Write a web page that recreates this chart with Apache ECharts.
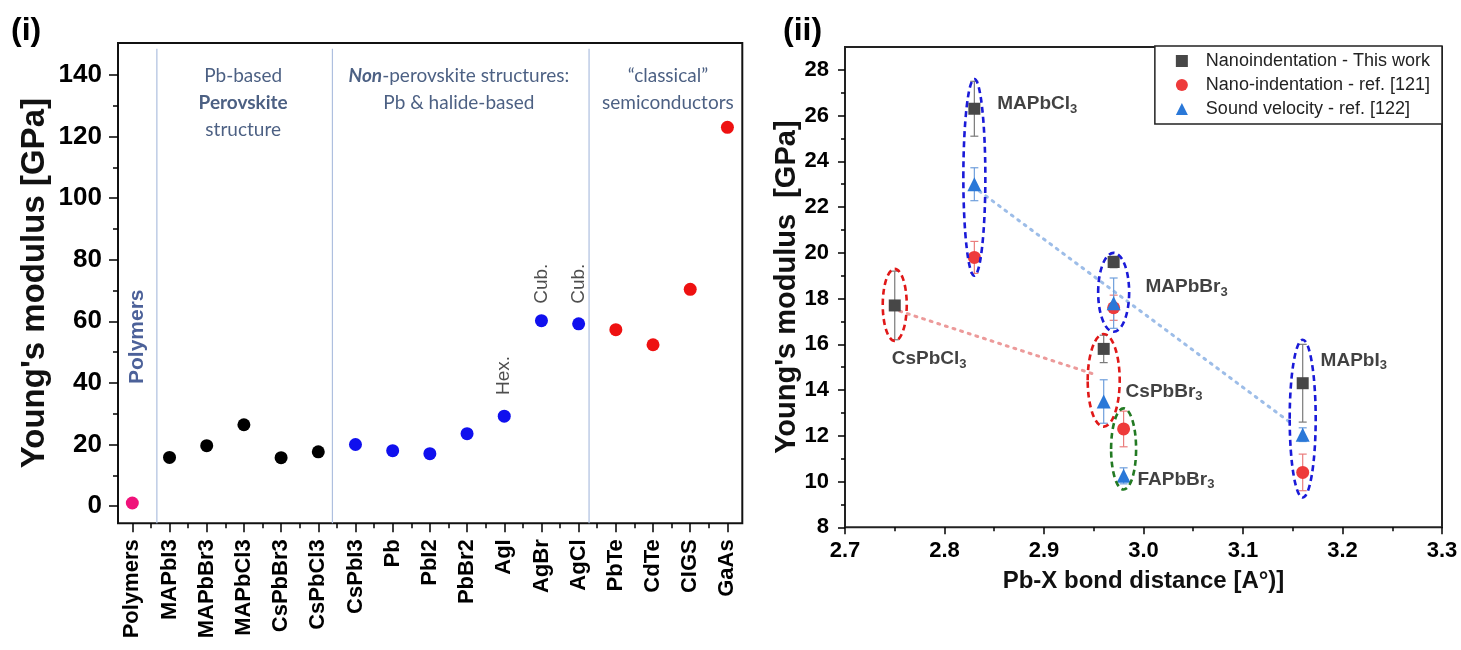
<!DOCTYPE html>
<html><head><meta charset="utf-8">
<script src="https://cdn.jsdelivr.net/npm/echarts@6/dist/echarts.min.js"></script>
<style>html,body{margin:0;padding:0;background:#fff}#c{width:1461px;height:650px}</style>
</head><body><div id="c"></div>
<script>
// ================= DATA =================
// Panel (i)
const leftCategories = ['Polymers','MAPbI3','MAPbBr3','MAPbCl3','CsPbBr3','CsPbCl3','CsPbI3','Pb','PbI2','PbBr2','AgI','AgBr','AgCl','PbTe','CdTe','CIGS','GaAs'];
const leftValues = [1.0, 15.8, 19.6, 26.4, 15.7, 17.6, 20.0, 18.0, 17.0, 23.5, 29.2, 60.2, 59.2, 57.3, 52.4, 70.4, 123.0];
const leftGroups = ['polymer','perovskite','perovskite','perovskite','perovskite','perovskite',
  'nonperovskite','nonperovskite','nonperovskite','nonperovskite','nonperovskite','nonperovskite','nonperovskite',
  'classical','classical','classical','classical'];
const leftYTicks = [0, 20, 40, 60, 80, 100, 120, 140];
const groupBoundaries = [0.66, 5.38, 12.28];
const structureNotes = [['AgI', 'Hex.'], ['AgBr', 'Cub.'], ['AgCl', 'Cub.']];

// Panel (ii)
const compounds = ['MAPbCl3','MAPbBr3','MAPbI3','CsPbCl3','CsPbBr3','FAPbBr3'];
const bondDistance = [2.83, 2.97, 3.16, 2.75, 2.96, 2.98];
const thisWork = [26.3, 19.6, 14.3, 17.7, 15.8, null];
const thisWorkErr = [1.2, 0.25, 1.7, 1.5, 0.6, null];
const ref121 = [19.8, 17.6, 10.4, null, null, 12.3];
const ref121Err = [0.7, 0.55, 0.8, null, null, 0.78];
const ref122 = [23.0, 17.8, 12.05, null, 13.5, 10.25];
const ref122Err = [0.72, 1.1, 0.3, null, 0.95, 0.35];
const groupLow = [19.0, 16.55, 9.3, 16.15, 12.4, 9.65];
const groupHigh = [27.6, 20.0, 16.2, 19.3, 16.45, 13.2];
const maTrend = [[2.835, 22.7], [3.15, 12.5]];
const csTrend = [[2.755, 17.45], [2.95, 14.7]];
const rightXTicks = [2.7, 2.8, 2.9, 3.0, 3.1, 3.2, 3.3];
const rightYTicks = [8, 10, 12, 14, 16, 18, 20, 22, 24, 26, 28];
const seriesNames = ['Nanoindentation - This work', 'Nano-indentation - ref. [121]', 'Sound velocity - ref. [122]'];

// ================= LAYOUT / STYLE =================
const FONT = "'Liberation Sans', Arial, Helvetica, sans-serif";
const HFONT = "Lato, 'Open Sans', sans-serif";
const NAVY = '#1f3864';
const L = {left:118, right:742.3, top:43, bottom:523.3, xMin:-0.385, xMax:16.4, yMin:-5.6, yMax:150.4};
const R = {left:845, right:1442, top:47, bottom:527.3, xMin:2.7, xMax:3.3, yMin:8, yMax:29};
const lpx = v => L.left + (v - L.xMin) / (L.xMax - L.xMin) * (L.right - L.left);
const lpy = v => L.bottom - (v - L.yMin) / (L.yMax - L.yMin) * (L.bottom - L.top);
const rpy = v => R.bottom - (v - R.yMin) / (R.yMax - R.yMin) * (R.bottom - R.top);

const groupColors = {polymer:'#f0127a', perovskite:'#000000', nonperovskite:'#1010ee', classical:'#ee1111'};
const ellipseWidthPx = [22, 31, 26, 24, 32, 25];
const ellipseColors = ['#1a1ad8','#1a1ad8','#1a1ad8','#e01818','#e01818','#237a23'];
const labelAnchors = [[2.853, 26.5], [3.002, 18.5], [3.178, 15.3], [2.747, 15.35], [2.982, 13.93], [2.994, 10.1]];
const tickLine = {color:'#000', width:1.5};

const chart = echarts.init(document.getElementById('c'), null, {renderer:'canvas'});

const grids = [
  {left:L.left, top:L.top, width:L.right-L.left, height:L.bottom-L.top, show:true, borderColor:'#111', borderWidth:2},
  {left:L.left, top:lpy(leftYTicks[leftYTicks.length-1]), width:L.right-L.left, height:lpy(leftYTicks[0])-lpy(leftYTicks[leftYTicks.length-1])},
  {left:lpx(-0.5), top:L.top, width:lpx(16.5)-lpx(-0.5), height:L.bottom-L.top},
  {left:lpx(0.5), top:L.top, width:lpx(15.5)-lpx(0.5), height:L.bottom-L.top},
  {left:R.left, top:R.top, width:R.right-R.left, height:R.bottom-R.top, show:true, borderColor:'#222', borderWidth:2},
  {left:R.left, top:rpy(rightYTicks[rightYTicks.length-1]), width:R.right-R.left, height:rpy(rightYTicks[0])-rpy(rightYTicks[rightYTicks.length-1])}
];

const hidden = (gi, extra) => Object.assign({gridIndex:gi, type:'value', show:false}, extra || {});

const xAxes = [
  hidden(0, {min:L.xMin, max:L.xMax}),
  hidden(1, {min:0, max:1}),
  {gridIndex:2, type:'category', data:leftCategories, boundaryGap:true,
   axisLine:{show:false}, axisTick:{show:true, alignWithLabel:true, interval:0, length:9, lineStyle:tickLine},
   axisLabel:{interval:0, rotate:90, margin:16, fontSize:22, fontWeight:'bold', color:'#000', fontFamily:FONT},
   splitLine:{show:false}},
  {gridIndex:3, type:'category', data:leftCategories.slice(1).map((c,i)=>leftCategories[i]+'|'+c), boundaryGap:false,
   axisLine:{show:false}, axisTick:{show:true, interval:0, length:5, lineStyle:tickLine},
   axisLabel:{show:false}, splitLine:{show:false}},
  {gridIndex:4, type:'value', min:rightXTicks[0], max:rightXTicks[rightXTicks.length-1], interval:0.1,
   axisLine:{show:false}, axisTick:{show:true, length:7, lineStyle:tickLine},
   minorTick:{show:true, splitNumber:2, length:4, lineStyle:tickLine},
   splitLine:{show:false}, minorSplitLine:{show:false},
   axisLabel:{margin:13, fontSize:22, fontWeight:'bold', color:'#000', fontFamily:FONT, formatter:v=>Number(v).toFixed(1)},
   name:'Pb-X bond distance [A°)]', nameLocation:'middle', nameGap:42,
   nameTextStyle:{fontSize:24, fontWeight:'bold', color:'#111', fontFamily:FONT}},
  hidden(5, {min:0, max:1})
];

const yAxes = [
  {gridIndex:0, type:'value', min:L.yMin, max:L.yMax, axisLine:{show:false}, axisTick:{show:false}, axisLabel:{show:false}, splitLine:{show:false},
   name:"Young's modulus [GPa]", nameLocation:'middle', nameGap:67,
   nameTextStyle:{fontSize:33, fontWeight:'bold', color:'#111', fontFamily:FONT}},
  {gridIndex:1, type:'value', min:leftYTicks[0], max:leftYTicks[leftYTicks.length-1], interval:leftYTicks[1]-leftYTicks[0],
   axisLine:{show:false}, axisTick:{show:true, length:9, lineStyle:tickLine},
   minorTick:{show:true, splitNumber:2, length:5, lineStyle:tickLine},
   splitLine:{show:false}, minorSplitLine:{show:false},
   axisLabel:{margin:16, fontSize:26, fontWeight:'bold', color:'#000', fontFamily:FONT}},
  hidden(2, {min:0, max:1}),
  hidden(3, {min:0, max:1}),
  {gridIndex:4, type:'value', min:R.yMin, max:R.yMax, axisLine:{show:false}, axisTick:{show:false}, axisLabel:{show:false}, splitLine:{show:false},
   name:"Young's modulus  [GPa]", nameLocation:'middle', nameGap:44,
   nameTextStyle:{fontSize:29, fontWeight:'bold', color:'#111', fontFamily:FONT}},
  {gridIndex:5, type:'value', min:rightYTicks[0], max:rightYTicks[rightYTicks.length-1], interval:rightYTicks[1]-rightYTicks[0],
   axisLine:{show:false}, axisTick:{show:true, length:7, lineStyle:tickLine},
   minorTick:{show:true, splitNumber:2, length:4, lineStyle:tickLine},
   splitLine:{show:false}, minorSplitLine:{show:false},
   axisLabel:{margin:16, fontSize:22, fontWeight:'bold', color:'#000', fontFamily:FONT}}
];

const series = [];

// separators
groupBoundaries.forEach(b => series.push({
  type:'line', xAxisIndex:0, yAxisIndex:0, silent:true, symbol:'none', z:1,
  data:[[b, L.yMin], [b, 148.5]], lineStyle:{color:'#aebfdf', width:1.2}
}));

// left data by group
['polymer','perovskite','nonperovskite','classical'].forEach(g => {
  const data = [];
  leftValues.forEach((v,i) => { if (leftGroups[i] === g) data.push([i, v]); });
  series.push({type:'scatter', xAxisIndex:0, yAxisIndex:0, data, symbol:'circle', symbolSize:13,
    itemStyle:{color:groupColors[g], opacity:1}, z:4, silent:true});
});

// left annotations
const txt = (x, y, label) => ({value:[x, y], label:Object.assign({show:true, position:'inside'}, label)});
const noteItems = [
  txt(2.98, 130.9, {formatter:'{n|Pb-based}\n{b|Perovskite}\n{n|structure}'}),
  txt(8.78, 135.3, {formatter:'{bi|Non}{n|-perovskite structures:}\n{n|Pb & halide-based}'}),
  txt(14.4, 135.3, {formatter:'{n|\u201Cclassical\u201D}\n{n|semiconductors}'}),
  txt(0.14, 55, {formatter:'Polymers', rotate:90, fontSize:21, fontWeight:'bold', color:'#1f3a80', fontFamily:FONT})
];
structureNotes.forEach(([cat, t]) => {
  const i = leftCategories.indexOf(cat);
  noteItems.push(txt(i, t === 'Hex.' ? 42.4 : 72.2, {formatter:t, rotate:90, fontSize:19, color:'#222', fontFamily:FONT}));
});
const hRich = {
  n:{fontFamily:HFONT, fontSize:19, color:NAVY, lineHeight:27},
  b:{fontFamily:HFONT, fontSize:19, color:NAVY, fontWeight:'bold', lineHeight:27},
  bi:{fontFamily:HFONT, fontSize:19, color:NAVY, fontWeight:'bold', fontStyle:'italic', lineHeight:27}
};
series.push({type:'scatter', xAxisIndex:0, yAxisIndex:0, symbolSize:0, silent:true, z:6,
  data:noteItems, label:{show:true, rich:hRich, align:'center', verticalAlign:'middle'}, itemStyle:{color:'transparent'}});

// right: trend lines
series.push({type:'line', xAxisIndex:4, yAxisIndex:4, data:maTrend, symbol:'none', silent:true, z:2,
  lineStyle:{color:'#9dbde8', width:3, type:[2,6], cap:'round'}});
series.push({type:'line', xAxisIndex:4, yAxisIndex:4, data:csTrend, symbol:'none', silent:true, z:2,
  lineStyle:{color:'#ec9a9a', width:3, type:[2,6], cap:'round'}});

// right: error bars
function errorBars(ys, errs, color) {
  const data = [];
  bondDistance.forEach((x,i) => { if (ys[i] != null) data.push([x, ys[i], errs[i]]); });
  return {type:'custom', xAxisIndex:4, yAxisIndex:4, data, encode:{x:0, y:1}, silent:true, z:3, clip:false,
    renderItem(params, api) {
      const x = api.value(0), y = api.value(1), e = api.value(2);
      const t = api.coord([x, y + e]), b = api.coord([x, y - e]);
      const w = 4, st = {stroke:color, lineWidth:1.2};
      return {type:'group', children:[
        {type:'line', shape:{x1:t[0], y1:t[1], x2:b[0], y2:b[1]}, style:st},
        {type:'line', shape:{x1:t[0]-w, y1:t[1], x2:t[0]+w, y2:t[1]}, style:st},
        {type:'line', shape:{x1:b[0]-w, y1:b[1], x2:b[0]+w, y2:b[1]}, style:st}
      ]};
    }};
}
series.push(errorBars(thisWork, thisWorkErr, '#7a7a7a'));
series.push(errorBars(ref121, ref121Err, '#ea7d7d'));
series.push(errorBars(ref122, ref122Err, '#6f9fdc'));

// right: markers
const pts = ys => bondDistance.map((x,i) => ys[i] == null ? null : [x, ys[i]]).filter(Boolean);
series.push({name:seriesNames[0], type:'scatter', xAxisIndex:4, yAxisIndex:4, data:pts(thisWork), symbol:'rect', symbolSize:12, itemStyle:{color:'#474747', opacity:1}, z:4});
series.push({name:seriesNames[1], type:'scatter', xAxisIndex:4, yAxisIndex:4, data:pts(ref121), symbol:'circle', symbolSize:13, itemStyle:{color:'#ee3b3b', opacity:1}, z:4});
series.push({name:seriesNames[2], type:'scatter', xAxisIndex:4, yAxisIndex:4, data:pts(ref122), symbol:'triangle', symbolSize:14, itemStyle:{color:'#2a78d8', opacity:1}, z:4});

// right: group ellipses
series.push({type:'custom', xAxisIndex:4, yAxisIndex:4, silent:true, z:5, clip:false,
  data:compounds.map((c,i) => [bondDistance[i], groupLow[i], groupHigh[i]]), encode:{x:0, y:[1,2]},
  renderItem(params, api) {
    const cx = api.value(0), lo = api.value(1), hi = api.value(2);
    const t = api.coord([cx, hi]), b = api.coord([cx, lo]);
    return {type:'ellipse', shape:{cx:t[0], cy:(t[1]+b[1])/2, rx:ellipseWidthPx[params.dataIndex]/2, ry:(b[1]-t[1])/2},
      style:{fill:'none', stroke:ellipseColors[params.dataIndex], lineWidth:2.6, lineDash:[6,4]}};
  }});

// right: compound labels
series.push({type:'scatter', xAxisIndex:4, yAxisIndex:4, symbolSize:0, silent:true, z:6, itemStyle:{color:'transparent'},
  data:compounds.map((c,i) => ({value:labelAnchors[i], name:c})),
  label:{show:true, position:'right', distance:0,
    formatter:p => '{n|' + p.name.replace(/3$/, '') + '}{s|3}',
    rich:{n:{fontSize:19, fontWeight:'bold', color:'#111', fontFamily:FONT},
          s:{fontSize:13, fontWeight:'bold', color:'#111', fontFamily:FONT, padding:[10,0,0,0]}}}});

chart.setOption({
  animation:false,
  backgroundColor:'#fff',
  title:[
    {text:'(i)', left:6, top:10, textStyle:{fontSize:32, fontWeight:'bold', color:'#000', fontFamily:FONT}},
    {text:'(ii)', left:778, top:10, textStyle:{fontSize:32, fontWeight:'bold', color:'#000', fontFamily:FONT}}
  ],
  legend:{data:seriesNames, orient:'vertical', right:1461-R.right, top:46, backgroundColor:'#fff',
    borderColor:'#222', borderWidth:1.5, borderRadius:0, padding:[6,12,6,21], itemGap:6, itemWidth:12, itemHeight:12,
    textStyle:{fontSize:18, color:'#222', fontFamily:FONT, padding:[0,0,0,13]}, selectedMode:false, z:10},
  grid:grids, xAxis:xAxes, yAxis:yAxes, series
});
</script></body></html>
